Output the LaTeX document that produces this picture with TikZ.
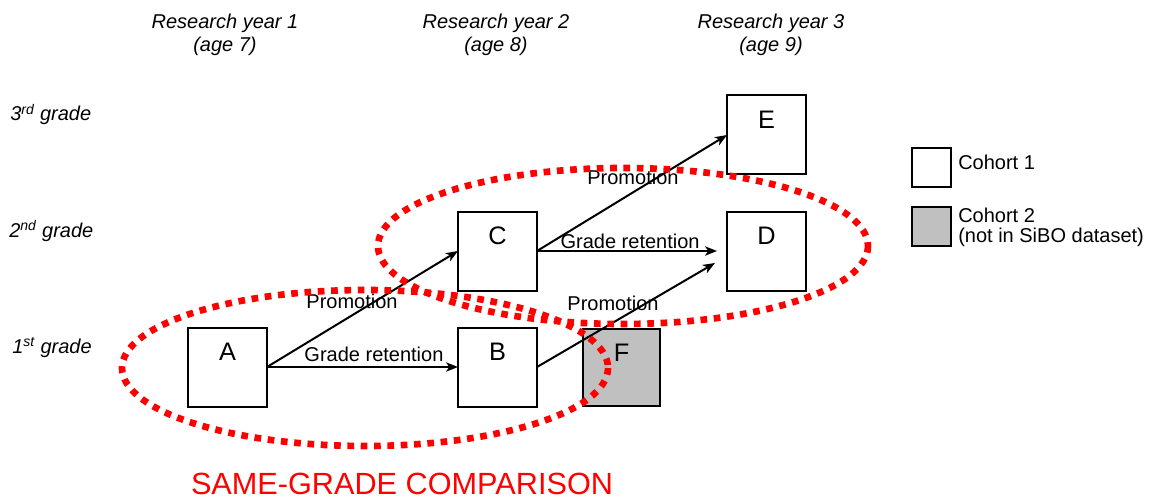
\documentclass[tikz,border=0pt]{standalone}
\usepackage{fontspec}
\setmainfont{Liberation Sans}
\usetikzlibrary{arrows.meta,positioning}

\definecolor{cohorttwo}{HTML}{C0C0C0}

\tikzset{
  cell/.style={draw,line width=1.5pt,inner sep=0pt,outer sep=0pt,minimum width=59.25pt,
    text height=24.75pt,text depth=34.5pt,font=\fontsize{19}{19}\selectfont},
  key/.style={draw,line width=1.5pt,inner sep=0pt,minimum size=29.25pt},
  move/.style={-{Stealth[length=9pt,width=7pt,inset=2.5pt]},line width=1.5pt},
  lbl/.style={font=\fontsize{15}{15}\selectfont,anchor=base,inner sep=0pt},
  hdr/.style={font=\fontsize{15}{17.5}\selectfont\itshape,align=center,anchor=north,inner sep=0pt},
  grade/.style={font=\fontsize{15}{15}\selectfont\itshape,anchor=base west,inner sep=0pt},
  legendtxt/.style={font=\fontsize{15}{15}\selectfont,align=left,anchor=north west,inner sep=0pt},
  comparison/.style={draw=red,line width=5pt,dash pattern=on 5pt off 5pt}
}

\begin{document}
\begin{tikzpicture}[x=0.75pt,y=-0.75pt]
\useasboundingbox (0,0) rectangle (1158,503);

% Years and grades
\node[hdr] (yr1) at (225,13.5) {Research year 1\\(age 7)};
\node[hdr] (yr2) at (496,13.5) {Research year 2\\(age 8)};
\node[hdr] (yr3) at (771,13.5) {Research year 3\\(age 9)};
\node[grade] (g3) at (10,121) {3\textsuperscript{rd} grade};
\node[grade] (g2) at (9,237) {2\textsuperscript{nd} grade};
\node[grade] (g1) at (12,353) {1\textsuperscript{st} grade};

% Cells
\node[cell] (a) at (227.5,367) {A};
\node[cell,right=143.25pt of a] (b) {B};
\node[cell,above=27.75pt of b] (c) {C};
\node[cell,right=142.5pt of c] (d) {D};
\node[cell,above=27.75pt of d] (e) {E};
\node[cell,fill=cohorttwo,minimum width=57.75pt,text depth=33pt,right=34.5pt of b] (f) {F};

% Transitions
\draw[move] (a.east) -- node[lbl,pos=.56,yshift=4pt] {Grade retention} (b.west);
\draw[move] (a.east) -- node[lbl,pos=.445,yshift=4.8pt] {Promotion} (c.west);
\draw[move] (c.east) -- node[lbl,pos=.505,yshift=6.3pt] {Promotion} (e.west);
\draw[move,shorten >=7.5pt] (c.east) -- node[lbl,pos=.49,yshift=1.65pt] {Grade retention} (d.west);
\draw[move] (b.east) -- node[lbl,pos=.427,yshift=9.2pt] {Promotion} ([xshift=-9pt,yshift=-9pt]d.west);

% Legend
\node[key] (k1) at (931.5,167.5) {};
\node[key,fill=cohorttwo] (k2) at (931.5,226.5) {};
\node[legendtxt] (k1txt) at (958,155) {Cohort 1};
\node[legendtxt] (k2txt) at (958,208) {Cohort 2\\(not in SiBO dataset)};

% Comparisons
\draw[comparison] (365,368) ellipse [x radius=243, y radius=78];
\draw[comparison] (623,246) ellipse [x radius=245, y radius=78];
\node[font=\fontsize{23}{23}\selectfont,text=red,anchor=base,inner sep=0pt] (sgc) at (402,494) {SAME-GRADE COMPARISON};
\end{tikzpicture}
\end{document}
